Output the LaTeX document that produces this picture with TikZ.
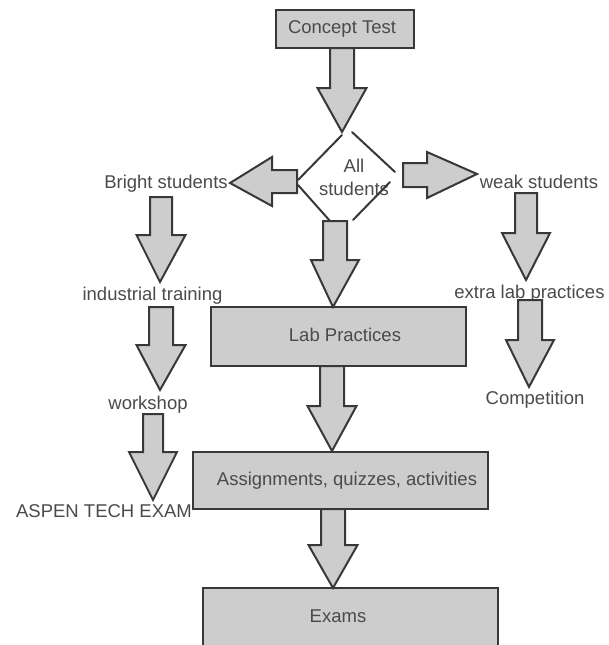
\documentclass[tikz,border=0pt]{standalone}
\usepackage{fontspec}
\setmainfont{Liberation Sans}
\usetikzlibrary{calc}

\definecolor{boxfill}{HTML}{CDCDCD}
\definecolor{edgecol}{HTML}{383838}
\definecolor{txtcol}{HTML}{4A4A4A}

\tikzset{
  blockarrow/.style={fill=boxfill, draw=edgecol, line width=2pt, line join=miter},
  stepbox/.style={rectangle, fill=boxfill, draw=edgecol, line width=2.4pt,
    inner sep=0pt, text=txtcol},
  label/.style={inner sep=0pt, text=txtcol, text height=13pt, text depth=0pt},
  diamondedge/.style={draw=edgecol, line width=2pt, line cap=round},
}

% text placed off-centre inside a box: #1 horizontal shift, #2 raise, #3 text
\newcommand{\boxtext}[3]{\makebox[0pt]{\hspace*{#1}\hspace*{#1}\raisebox{#2}{#3}}}

% vertical block arrow: #1 shaft start (centre), #2 tip,
% #3 shaft half width, #4 head half width, #5 head length
\newcommand{\blockdown}[5]{%
  \filldraw[blockarrow] let \p1=#1, \p2=#2 in
    (\x1-#3,\y1) -- (\x1+#3,\y1) -- (\x1+#3,\y2+#5) -- (\x1+#4,\y2+#5)
    -- (\x2,\y2) -- (\x1-#4,\y2+#5) -- (\x1-#3,\y2+#5) -- cycle;}
% horizontal block arrow: same parameters, head length signed
\newcommand{\blockside}[5]{%
  \filldraw[blockarrow] let \p1=#1, \p2=#2 in
    (\x1,\y1-#3) -- (\x1,\y1+#3) -- (\x2+#5,\y1+#3) -- (\x2+#5,\y1+#4)
    -- (\x2,\y2) -- (\x2+#5,\y1-#4) -- (\x2+#5,\y1-#3) -- cycle;}

\begin{document}
\begin{tikzpicture}[x=1pt, y=-1pt, font=\fontsize{18.5}{23}\selectfont]
\useasboundingbox (0,0) rectangle (608,645);

% main column boxes
\node[stepbox, minimum width=138pt, minimum height=38pt] (concept) at (345,29)
  {\boxtext{-3pt}{3pt}{Concept Test}};
\node[stepbox, minimum width=255pt, minimum height=59pt] (lab) at (338.5,336.5)
  {\boxtext{6.5pt}{3pt}{Lab Practices}};
\node[stepbox, minimum width=295pt, minimum height=57pt] (assign) at (340.5,480.5)
  {\boxtext{6.5pt}{-1pt}{Assignments, quizzes, activities}};
\node[stepbox, minimum width=295pt, minimum height=60pt] (exams) at (350.5,618)
  {\boxtext{-12.5pt}{3pt}{Exams}};

% decision: all students
\node[inner sep=0pt, text=txtcol, align=center] (all) at (354,177) {All\\students};
\coordinate (dT1) at (342,135);
\coordinate (dL) at (298,180);
\coordinate (dL2) at (298,185);
\coordinate (dB1) at (330,221);
\coordinate (dT2) at (352,132);
\coordinate (dR1) at (395,172);
\coordinate (dR2) at (390,182);
\coordinate (dB2) at (353,220);
\draw[diamondedge] (dT1) -- (dL);
\draw[diamondedge] (dL2) -- (dB1);
\draw[diamondedge] (dT2) -- (dR1);
\draw[diamondedge] (dR2) -- (dB2);

% side branches
\node[label] (bright) at (166,182) {Bright students};
\node[label] (industrial) at (152.5,294) {industrial training};
\node[label] (workshop) at (148,403) {workshop};
\node[label] (aspen) at (104,511) {ASPEN TECH EXAM};
\node[label] (weak) at (539,182) {weak students};
\node[label] (extra) at (529.5,292) {extra lab practices};
\node[label] (competition) at (535,398) {Competition};

% connector end points
\coordinate (a1s) at (342,48);   \coordinate (a1t) at (342,132);
\coordinate (a2s) at (335,221);  \coordinate (a2t) at (333,307);
\coordinate (a3s) at (332,366);  \coordinate (a3t) at (332,451);
\coordinate (a4s) at (333,509);  \coordinate (a4t) at (333,588);
\coordinate (a5s) at (161,197);  \coordinate (a5t) at (160,282);
\coordinate (a6s) at (161,307);  \coordinate (a6t) at (160,390);
\coordinate (a7s) at (153,414);  \coordinate (a7t) at (153,500);
\coordinate (a8s) at (526,193);  \coordinate (a8t) at (526,280);
\coordinate (a9s) at (530,300);  \coordinate (a9t) at (529,387);
\coordinate (a10s) at (297,181.5); \coordinate (a10t) at (230,183);
\coordinate (a11s) at (403,175);   \coordinate (a11t) at (477,174);

% block arrows
\blockdown{(a1s)}{(a1t)}{12pt}{24.5pt}{44pt}
\blockdown{(a2s)}{(a2t)}{12pt}{24pt}{47pt}
\blockdown{(a3s)}{(a3t)}{12pt}{24.5pt}{45pt}
\blockdown{(a4s)}{(a4t)}{12pt}{24.5pt}{43pt}
\blockdown{(a5s)}{(a5t)}{11pt}{24.5pt}{47pt}
\blockdown{(a6s)}{(a6t)}{12pt}{24.5pt}{45pt}
\blockdown{(a7s)}{(a7t)}{10pt}{24pt}{48pt}
\blockdown{(a8s)}{(a8t)}{11pt}{24pt}{47pt}
\blockdown{(a9s)}{(a9t)}{12pt}{24pt}{47pt}
\blockside{(a10s)}{(a10t)}{11.5pt}{24.5pt}{42pt}
\blockside{(a11s)}{(a11t)}{12pt}{23pt}{-50pt}
\end{tikzpicture}
\end{document}
